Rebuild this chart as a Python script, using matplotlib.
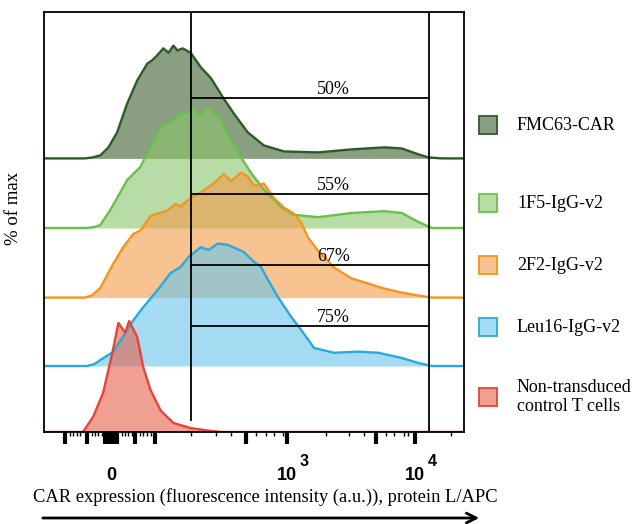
import numpy as np
import matplotlib.pyplot as plt
from matplotlib.patches import Rectangle

# histograms: channel (display scale 0-1045) vs % of max
fmc63_x = [0, 102, 120, 140, 160, 182, 207, 232, 257, 270, 282, 297, 310, 322, 332, 345, 365,
           390, 415, 445, 472, 507, 547, 597, 682, 765, 847, 890, 932, 957, 990, 1045]
fmc63_y = [0, 0, 0.8, 2.5, 9, 21.7, 45.8, 65, 79, 82, 86, 91.7, 88, 94, 90, 91.7, 88,
           76, 67, 51, 37.5, 21.7, 10.8, 5.8, 5, 7.5, 9.2, 8.3, 3.3, 0.8, 0, 0]

f15_x = [0, 107, 125, 140, 165, 207, 240, 265, 290, 315, 345, 360, 370, 390, 402, 410, 425,
         435, 465, 490, 515, 547, 590, 622, 682, 765, 847, 890, 932, 965, 1045]
f15_y = [0, 0, 0.8, 2.5, 15, 40, 51, 67.5, 84, 88, 97, 95, 100, 94, 99, 100, 95,
         94, 73, 59, 46, 32, 17.5, 11, 9, 12.5, 14, 12.5, 5, 0, 0]

f22_x = [0, 102, 120, 140, 172, 197, 222, 240, 265, 282, 307, 327, 340, 365, 390, 422, 447,
         465, 490, 507, 522, 547, 572, 597, 622, 640, 657, 682, 722, 765, 807, 847, 890,
         932, 965, 1045]
f22_y = [0, 0, 2, 8, 28, 42, 53, 56, 68, 70, 72.5, 78, 76, 83, 87.5, 95, 103,
         97, 104, 101, 93, 95, 83, 75, 70, 62.5, 50, 39, 25, 16, 11.7, 7.5, 4.2,
         1.7, 0, 0]

leu16_x = [0, 107, 125, 140, 172, 207, 222, 247, 282, 315, 340, 360, 372, 390, 410, 432, 457,
           477, 497, 522, 540, 557, 582, 615, 640, 672, 722, 780, 832, 890, 932, 965, 1045]
leu16_y = [0, 0, 1.5, 5, 11.7, 30, 38, 49, 63, 77.5, 82.5, 91, 94, 99, 96.7, 102, 101,
           98, 95, 87, 82.5, 72, 57.5, 41, 30, 15, 11, 12, 11, 6.7, 2.5, 0, 0]

ntd_x = [0, 90, 97, 122, 147, 170, 185, 202, 212, 232, 247, 265, 290, 322, 365, 402, 440, 1045]
ntd_y = [0, 0, 0, 12.5, 32.5, 65.8, 90.8, 83, 92.5, 79, 54, 35, 18, 7.5, 3.3, 1.5, 0, 0]

names = ['FMC63-CAR', '1F5-IgG-v2', '2F2-IgG-v2', 'Leu16-IgG-v2',
         'Non-transduced\ncontrol T cells']
xs = [fmc63_x, f15_x, f22_x, leu16_x, ntd_x]
ys = [fmc63_y, f15_y, f22_y, leu16_y, ntd_y]
offsets = [228, 170, 112, 55, 0]
fills = ['#3c5d2f', '#8ac569', '#f39b48', '#69c5ee', '#e66148']
edges = ['#2e5a2a', '#6abf4b', '#f7941d', '#27aae1', '#e8423a']

gate_lo, gate_hi = 365, 957
gate_y = [278, 198, 139, 88]
gate_pct = ['50%', '55%', '67%', '75%']

major_ticks = [52, 107, 152, 160, 167, 175, 182, 227, 277, 502, 605, 827, 922]
minor_ticks = [65, 72, 82, 90, 120, 127, 135, 145, 195, 202, 210, 220, 240, 247, 257, 265,
               365, 427, 465, 527, 552, 572, 595, 702, 760, 797, 852, 872, 895, 905, 1012]

serif = ['Liberation Serif', 'DejaVu Serif']
sans = ['Liberation Sans', 'DejaVu Sans']

fig = plt.figure(figsize=(6.38, 5.24), dpi=100)
ax = fig.add_axes([44 / 638, 92 / 524, 420 / 638, 420 / 524])

for x, y, off, fc, ec in zip(xs, ys, offsets, fills, edges):
    x = np.array(x)
    y = np.array(y) + off
    ax.fill_between(x, off, y, color=fc, alpha=0.6, lw=0)
    ax.plot(x, y, color=ec, lw=1.7)

# gates
ax.plot([gate_lo, gate_lo], [10, 350], color='black', lw=1.3, zorder=5)
ax.plot([gate_hi, gate_hi], [0, 350], color='black', lw=1.3, zorder=5)
for gy, lab in zip(gate_y, gate_pct):
    ax.plot([gate_lo, gate_hi], [gy, gy], color='black', lw=1.3, zorder=5)
    ax.text(720, gy + 7, lab, ha='center', va='center', fontsize=13, family=serif, zorder=6)

ax.set_xlim(0, 1045)
ax.set_ylim(0, 350)
ax.set_yticks([])
for s in ax.spines.values():
    s.set_linewidth(1.3)

ax.set_xticks(minor_ticks, minor=True)
ax.set_xticks(major_ticks)
labels = [''] * len(major_ticks)
labels[major_ticks.index(167)] = '0'
labels[major_ticks.index(605)] = '10'
labels[major_ticks.index(922)] = '10'
ax.set_xticklabels(labels, fontsize=13, family=sans, fontweight='bold')
ax.tick_params(axis='x', which='major', length=8.5, width=3, pad=17)
ax.tick_params(axis='x', which='minor', length=3, width=1)
trans = ax.get_xaxis_transform()
ax.text(648, -0.07, '3', transform=trans, ha='center', va='center', fontsize=11.5,
        family=sans, fontweight='bold')
ax.text(966, -0.07, '4', transform=trans, ha='center', va='center', fontsize=11.5,
        family=sans, fontweight='bold')

ax.set_ylabel('% of max', fontsize=13.5, family=serif)
ax.yaxis.set_label_coords(-0.052, 0.533)

fig.text(265 / 638, 1 - 497 / 524,
         'CAR expression (fluorescence intensity (a.u.)), protein L/APC',
         ha='center', va='center', fontsize=13.3, family=serif)
ax.annotate('', xy=(482 / 638, 6 / 524), xytext=(40 / 638, 6 / 524),
            xycoords='figure fraction', textcoords='figure fraction',
            arrowprops=dict(arrowstyle='->,head_length=0.7,head_width=0.35',
                            color='black', lw=2))

# legend drawn by hand, entries are unevenly spaced
leg_y = [125, 203, 265, 327, 397]
for name, yy, fc, ec in zip(names, leg_y, fills, edges):
    fig.add_artist(Rectangle((479 / 638, 1 - (yy + 9) / 524), 18 / 638, 18 / 524,
                             facecolor=fc, alpha=0.6, edgecolor='none'))
    fig.add_artist(Rectangle((479 / 638, 1 - (yy + 9) / 524), 18 / 638, 18 / 524,
                             facecolor='none', edgecolor=ec, lw=1.3))
    fig.text(517 / 638, 1 - yy / 524, name, ha='left', va='center',
             fontsize=13, family=serif, linespacing=1.15)

fig.savefig('out.png', dpi=100)
